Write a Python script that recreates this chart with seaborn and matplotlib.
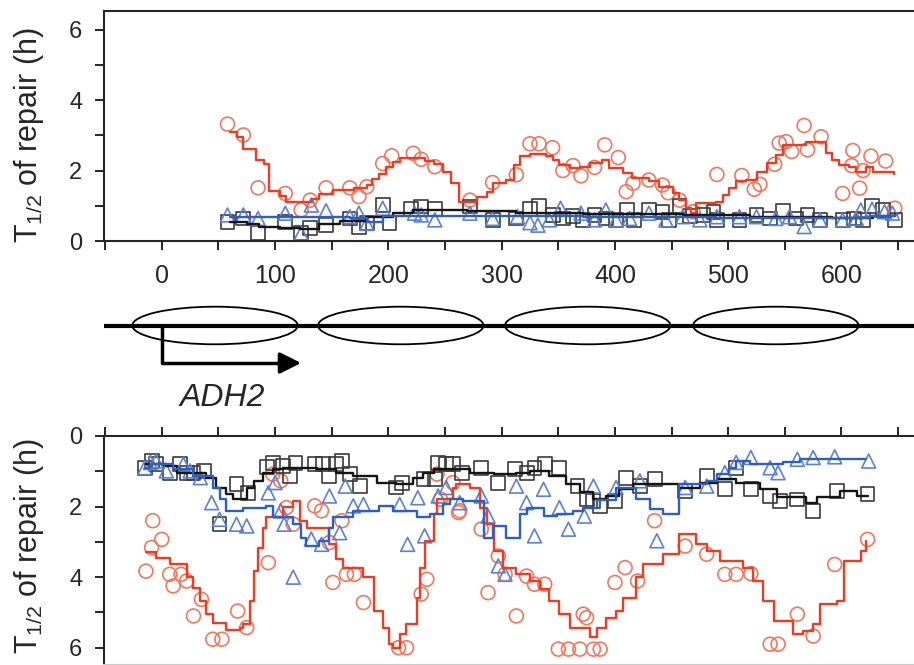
import seaborn as sns
import matplotlib.pyplot as plt
from matplotlib.patches import Ellipse

# top panel: points
top_red_x = [58, 72, 85, 109, 123, 131, 145, 166, 174, 181, 195, 203, 222, 229, 241, 272, 292, 313, 325, 333,
             345, 354, 363, 370, 382, 391, 403, 410, 416, 430, 442, 447, 457, 469, 490, 512, 523, 528, 541, 545,
             551, 556, 567, 570, 582, 601, 609, 610, 616, 619, 626, 639, 647]
top_red_y = [3.32, 3.01, 1.51, 1.35, 0.88, 1.16, 1.51, 1.51, 1.26, 1.54, 2.2, 2.42, 2.49, 2.32, 2.11, 1.16, 1.66, 1.88, 2.76, 2.76,
             2.65, 2.0, 2.14, 1.85, 2.09, 2.73, 2.37, 1.4, 1.64, 1.73, 1.59, 1.37, 1.16, 0.83, 1.89, 1.86, 1.47, 1.61, 2.18, 2.78,
             2.82, 2.54, 3.28, 2.59, 2.96, 1.35, 2.14, 2.57, 1.5, 2.0, 2.41, 2.27, 0.93]
top_blk_x = [58, 72, 85, 109, 123, 131, 145, 166, 174, 181, 195, 201, 220, 229, 241, 272, 292, 313, 325, 333,
             345, 354, 363, 372, 382, 392, 401, 411, 417, 430, 442, 448, 457, 466, 478, 487, 490, 510, 525, 537,
             548, 560, 570, 581, 601, 611, 619, 627, 637, 647]
top_blk_y = [0.55, 0.64, 0.22, 0.55, 0.22, 0.36, 0.45, 0.64, 0.41, 0.52, 1.02, 0.52, 0.9, 0.98, 0.9, 0.98, 0.6, 0.64, 0.9, 1.0,
             0.74, 0.64, 0.71, 0.6, 0.74, 0.64, 0.6, 0.88, 0.6, 0.88, 0.83, 0.6, 1.0, 0.71, 0.74, 0.83, 0.6, 0.6, 0.74, 0.64,
             0.86, 0.64, 0.74, 0.6, 0.6, 0.64, 0.6, 1.0, 0.88, 0.6]
top_blu_x = [58, 72, 85, 109, 123, 132, 145, 166, 174, 181, 195, 223, 229, 241, 272, 292, 314, 325, 332, 342,
             352, 370, 382, 392, 401, 413, 430, 445, 460, 475, 490, 510, 525, 542, 554, 567, 581, 601, 613, 617,
             627, 638, 645]
top_blu_y = [0.74, 0.74, 0.64, 0.79, 0.22, 1.02, 0.86, 0.69, 0.79, 0.5, 0.93, 0.79, 0.74, 0.6, 0.79, 0.64, 0.69, 0.52, 0.45, 0.6,
             0.93, 0.79, 0.6, 0.88, 0.6, 0.64, 0.79, 0.6, 0.69, 0.6, 0.69, 0.69, 0.69, 0.64, 0.69, 0.41, 0.6, 0.6, 0.64, 0.88,
             0.9, 0.83, 0.79]

# top panel: smoothed step lines
top_red_lx = [60, 66, 72, 83, 90, 95, 104, 110, 127, 133, 139, 151, 170, 181, 186, 192, 198, 204, 210, 232,
              240, 248, 255, 262, 278, 287, 292, 304, 311, 316, 325, 339, 345, 351, 360, 369, 378, 389, 395, 407,
              415, 430, 439, 451, 457, 463, 467, 472, 489, 495, 501, 507, 516, 525, 534, 542, 548, 569, 586, 592,
              598, 607, 613, 622, 628, 646]
top_red_ly = [3.1, 2.95, 2.6, 2.3, 2.2, 1.42, 1.27, 1.1, 1.12, 1.2, 1.33, 1.45, 1.5, 1.6, 1.75, 1.9, 2.1, 2.25, 2.35, 2.28,
              2.2, 1.95, 1.65, 1.12, 1.26, 1.4, 1.64, 1.73, 2.16, 2.4, 2.47, 2.4, 2.3, 2.16, 2.07, 2.11, 2.21, 2.3, 2.07, 1.92,
              1.78, 1.69, 1.54, 1.35, 1.17, 0.93, 0.79, 1.07, 1.12, 1.31, 1.5, 1.69, 1.73, 1.97, 2.21, 2.44, 2.73, 2.82, 2.49, 2.3,
              2.16, 2.11, 1.97, 2.11, 1.97, 1.9]
top_blk_lx = [60, 75, 86, 104, 122, 139, 157, 180, 204, 222, 269, 313, 372, 460, 519, 592, 628, 647]
top_blk_ly = [0.55, 0.48, 0.41, 0.38, 0.33, 0.48, 0.58, 0.69, 0.79, 0.88, 0.85, 0.79, 0.78, 0.74, 0.68, 0.64, 0.7, 0.78]
top_blu_lx = [60, 140, 166, 181, 195, 263, 372, 489, 570, 625, 647]
top_blu_ly = [0.69, 0.69, 0.64, 0.55, 0.72, 0.72, 0.69, 0.66, 0.64, 0.72, 0.74]

# bottom panel: points
bot_red_x = [-14, -8, -9, 0, 7, 10, 17, 22, 28, 35, 45, 53, 67, 75, 94, 98, 105, 110, 116, 135,
             141, 148, 151, 159, 163, 170, 178, 209, 216, 229, 234, 243, 246, 262, 257, 263, 282, 288, 297, 303,
             313, 322, 329, 338, 350, 359, 369, 372, 375, 381, 387, 400, 409, 420, 435, 462, 481, 497, 507, 520,
             537, 544, 561, 575, 594, 623]
bot_red_y = [3.83, 2.4, 3.16, 2.93, 3.92, 4.25, 3.92, 4.11, 5.1, 4.63, 5.76, 5.76, 4.96, 5.43, 3.59, 1.08, 1.27, 2.03, 2.5, 1.98,
             2.12, 3.02, 4.15, 2.4, 3.92, 3.92, 4.72, 6.0, 6.0, 4.48, 4.06, 1.08, 1.79, 2.17, 1.32, 2.12, 2.64, 4.44, 3.4, 3.92,
             5.1, 3.97, 4.2, 4.2, 6.04, 6.04, 6.04, 5.05, 5.15, 6.04, 6.04, 4.15, 3.73, 4.11, 2.4, 3.12, 3.35, 3.92, 3.92, 3.9,
             5.9, 5.9, 5.05, 5.67, 3.64, 2.93]
bot_blk_x = [-15, -9, -5, 7, 16, 22, 28, 37, 51, 66, 76, 93, 98, 107, 113, 118, 135, 142, 148, 154,
             159, 166, 175, 207, 212, 231, 241, 244, 251, 257, 265, 282, 297, 312, 322, 329, 338, 351, 367, 375,
             381, 387, 400, 410, 422, 435, 462, 481, 497, 507, 520, 537, 546, 561, 575, 596, 623]
bot_blk_y = [0.9, 0.71, 0.8, 1.04, 0.8, 1.04, 1.04, 0.99, 2.5, 1.37, 1.61, 0.88, 0.76, 0.85, 1.13, 0.76, 0.8, 0.8, 1.13, 0.8,
             0.71, 1.08, 1.42, 1.46, 1.32, 1.23, 1.23, 0.76, 0.8, 0.8, 1.04, 0.9, 1.32, 0.94, 1.04, 0.9, 0.8, 0.9, 1.42, 1.8,
             1.84, 1.98, 1.84, 1.18, 1.42, 1.23, 1.56, 1.13, 1.51, 0.9, 1.51, 1.7, 1.84, 1.8, 2.13, 1.56, 1.65]
bot_blu_x = [-15, -10, -5, 4, 19, 25, 34, 44, 51, 66, 75, 94, 100, 105, 108, 116, 132, 141, 148, 157,
             162, 169, 178, 210, 217, 226, 232, 244, 251, 263, 282, 288, 297, 303, 313, 322, 329, 337, 351, 359,
             373, 381, 401, 422, 437, 462, 481, 497, 507, 520, 537, 544, 561, 575, 594, 624]
bot_blu_y = [0.9, 0.75, 0.71, 0.99, 0.8, 0.99, 1.18, 1.89, 2.36, 2.5, 2.55, 1.61, 1.32, 2.12, 2.5, 4.0, 2.92, 3.07, 1.7, 2.74,
             1.42, 1.98, 1.94, 1.94, 3.07, 1.75, 2.83, 1.7, 1.46, 1.89, 1.7, 2.27, 3.68, 3.92, 1.42, 1.89, 2.83, 1.51, 2.03, 2.64,
             2.27, 1.42, 1.46, 1.27, 2.97, 1.46, 1.42, 1.04, 0.75, 0.61, 0.9, 1.04, 0.66, 0.61, 0.59, 0.71]

# bottom panel: smoothed step lines
bot_red_lx = [-14, -5, 7, 22, 28, 34, 39, 45, 57, 69, 72, 78, 81, 85, 89, 92, 107, 116, 122, 128,
              148, 154, 160, 175, 178, 187, 195, 201, 204, 210, 216, 225, 228, 232, 240, 243, 251, 257, 260, 272,
              281, 287, 293, 301, 313, 325, 334, 342, 351, 360, 378, 384, 392, 401, 407, 419, 425, 442, 457, 472,
              481, 493, 513, 522, 531, 540, 557, 566, 575, 581, 596, 602, 617, 622]
bot_red_ly = [3.3, 3.45, 3.64, 4.0, 4.3, 4.67, 5.05, 5.3, 5.5, 5.43, 5.33, 4.67, 3.83, 3.16, 2.6, 2.3, 2.0, 1.84, 2.4, 2.6,
              3.07, 3.5, 3.73, 3.73, 4.0, 4.96, 5.43, 5.9, 6.0, 5.6, 5.33, 4.58, 3.73, 2.97, 2.2, 1.79, 1.79, 1.46, 1.37, 1.46,
              2.03, 2.5, 3.26, 3.73, 3.92, 4.1, 4.34, 4.67, 5.05, 5.43, 5.71, 5.43, 5.15, 4.96, 4.58, 4.0, 3.64, 3.35, 2.78, 3.07,
              3.26, 3.54, 3.73, 4.1, 4.67, 5.24, 5.62, 5.52, 5.33, 4.77, 4.67, 3.54, 3.26, 2.97]
bot_blk_lx = [-14, 4, 13, 34, 39, 48, 57, 63, 75, 81, 89, 98, 107, 137, 154, 160, 169, 190, 207, 222,
              231, 240, 272, 278, 293, 313, 325, 342, 357, 369, 381, 392, 404, 416, 457, 475, 490, 507, 528, 543,
              569, 578, 599, 614, 623]
bot_blk_ly = [0.8, 0.85, 1.04, 1.04, 1.18, 1.46, 1.65, 1.79, 1.46, 1.27, 1.04, 0.94, 0.9, 0.94, 1.04, 1.04, 1.13, 1.32, 1.37, 1.18,
              1.04, 0.94, 1.04, 1.04, 1.08, 1.04, 0.99, 1.13, 1.37, 1.6, 1.79, 1.7, 1.51, 1.37, 1.46, 1.32, 1.23, 1.32, 1.51, 1.74,
              1.89, 1.74, 1.56, 1.7, 1.7]
bot_blu_lx = [-15, -10, 10, 28, 45, 51, 57, 72, 92, 98, 116, 123, 127, 139, 148, 151, 169, 192, 204, 225,
              237, 248, 254, 266, 284, 292, 304, 316, 322, 337, 349, 363, 372, 384, 401, 419, 431, 442, 457, 481,
              490, 501, 507, 519, 548, 563, 622]
bot_blu_ly = [0.9, 0.8, 0.94, 1.13, 1.46, 1.79, 2.12, 2.05, 1.98, 2.3, 2.5, 2.88, 3.12, 2.97, 2.6, 2.3, 2.12, 1.98, 2.12, 2.3,
              2.2, 1.94, 1.79, 1.84, 2.9, 2.55, 2.88, 2.22, 2.03, 2.26, 2.22, 2.12, 2.03, 1.8, 1.46, 1.79, 2.07, 2.22, 1.37, 1.27,
              1.08, 0.9, 0.71, 0.8, 0.75, 0.66, 0.66]

# gene map
nuc_centers = [47, 211, 376, 542]
nuc_width = 146
tss = 0
arrow_end = 123
gene_name = 'ADH2'

x_ticks = list(range(-50, 651, 50))
x_labels = [str(t) if t % 100 == 0 and 0 <= t <= 600 else '' for t in x_ticks]
ylabel = 'T$_{1/2}$ of repair (h)'

RED, RED_PT = '#ee3b22', '#f4765c'
BLU, BLU_PT = '#2c5fc2', '#5b80d4'
BLK, BLK_PT = '#151515', '#3a3a3a'

sns.set_style('ticks')
plt.rcParams['font.family'] = ['Liberation Sans', 'DejaVu Sans']
plt.rcParams['mathtext.default'] = 'regular'

W, H = 914, 665
fig = plt.figure(figsize=(9.14, 6.65), dpi=100)
L = 104 / W
ax_top = fig.add_axes([L, 1 - 241 / H, 1 - L, 230 / H])
ax_mid = fig.add_axes([L, 1 - 432 / H, 1 - L, 180 / H])
ax_bot = fig.add_axes([L, 0, 1 - L, 229 / H])
xlim = (-51, 664)


def draw_panel(ax, pts, lines):
    for x, y, m, c in pts:
        sns.scatterplot(x=x, y=y, marker=m, s=100, facecolor='none', edgecolor=c,
                        linewidth=1.2, ax=ax, zorder=2)
    for x, y, c in lines:
        sns.lineplot(x=x, y=y, color=c, linewidth=1.7, drawstyle='steps-post',
                     ax=ax, zorder=3)
    ax.set_xlim(*xlim)
    ax.set_xticks(x_ticks)
    ax.set_yticks([0, 2, 4, 6])
    ax.set_yticks([1, 3, 5], minor=True)
    ax.spines['right'].set_visible(False)
    for s in ax.spines.values():
        s.set_linewidth(1.5)
    ax.tick_params(axis='both', which='both', length=6.5, width=1.2, color='black')
    ax.tick_params(axis='y', which='major', labelsize=17, pad=9)
    ax.set_xlabel('')
    ax.set_ylabel(ylabel, fontsize=22)


draw_panel(ax_top,
           [(top_red_x, top_red_y, 'o', RED_PT), (top_blk_x, top_blk_y, 's', BLK_PT),
            (top_blu_x, top_blu_y, '^', BLU_PT)],
           [(top_red_lx, top_red_ly, RED), (top_blk_lx, top_blk_ly, BLK), (top_blu_lx, top_blu_ly, BLU)])
ax_top.set_ylim(0, 6.53)
ax_top.set_xticklabels(x_labels)
ax_top.tick_params(axis='x', labelsize=18, pad=10)
ax_top.yaxis.set_label_coords(-0.071, 0.46)

draw_panel(ax_bot,
           [(bot_red_x, bot_red_y, 'o', RED_PT), (bot_blk_x, bot_blk_y, 's', BLK_PT),
            (bot_blu_x, bot_blu_y, '^', BLU_PT)],
           [(bot_red_lx, bot_red_ly, RED), (bot_blk_lx, bot_blk_ly, BLK), (bot_blu_lx, bot_blu_ly, BLU)])
ax_bot.set_ylim(6.49, 0)
ax_bot.xaxis.tick_top()
ax_bot.tick_params(axis='x', labeltop=False, labelbottom=False)
ax_bot.spines['bottom'].set_color('#cccccc')
ax_bot.yaxis.set_label_coords(-0.071, 0.52)

# gene map between panels (y in pixel rows)
ax_mid.set_xlim(*xlim)
ax_mid.set_ylim(432, 252)
ax_mid.axis('off')
ax_mid.axhline(325.5, color='black', linewidth=3)
for c in nuc_centers:
    ax_mid.add_patch(Ellipse((c, 325.5), nuc_width, 37.6, fill=False, edgecolor='black', linewidth=1.3))
ax_mid.plot([tss, tss, arrow_end - 12], [325.5, 363, 363], color='black', linewidth=2.5, solid_capstyle='butt')
ax_mid.annotate('', xy=(arrow_end, 363), xytext=(arrow_end - 20, 363),
                arrowprops=dict(arrowstyle='-|>', color='black', lw=2.5, mutation_scale=32,
                                shrinkA=0, shrinkB=0))
ax_mid.text(53, 398, gene_name, fontsize=23, style='italic', ha='center', va='center')

fig.savefig('out.png', dpi=100, facecolor='white')
